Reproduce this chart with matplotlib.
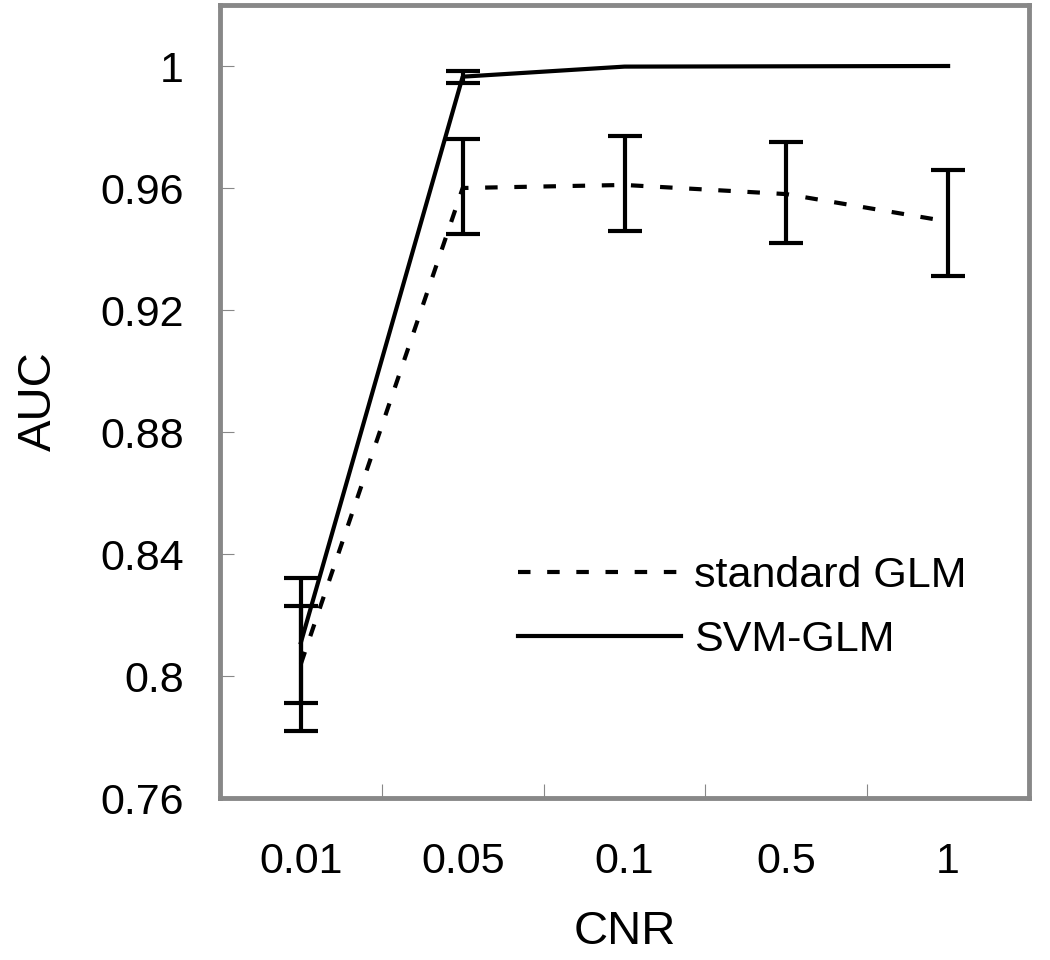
import numpy as np
import matplotlib
matplotlib.use("Agg")
import matplotlib.pyplot as plt

plt.rcParams['font.family'] = ['Liberation Sans', 'DejaVu Sans']

categories = ['0.01', '0.05', '0.1', '0.5', '1']
glm_mean = [0.804, 0.960, 0.961, 0.958, 0.949]
glm_low = [0.782, 0.945, 0.946, 0.942, 0.931]
glm_high = [0.832, 0.976, 0.977, 0.975, 0.966]
svm_mean = [0.811, 0.9965, 0.9998, 0.9999, 1.0]
svm_low = [0.791, 0.9944, 0.9998, 0.9999, 1.0]
svm_high = [0.823, 0.9985, 0.9998, 0.9999, 1.0]
yticks = [0.76, 0.80, 0.84, 0.88, 0.92, 0.96, 1.0]
ytick_labels = ['0.76', '0.8', '0.84', '0.88', '0.92', '0.96', '1']

fig = plt.figure(figsize=(10.5, 9.6), dpi=100)
ax = fig.add_axes([220/1050, 1-798/960, (1029-220)/1050, (798-5)/960])

x = np.arange(len(categories))

def draw_err(low, high):
    low = np.array(low); high = np.array(high)
    sel = high - low > 1e-6
    center = (low + high) / 2
    ax.errorbar(x[sel], center[sel], yerr=((high - low) / 2)[sel], fmt='none',
                ecolor='black', elinewidth=3, capsize=12, capthick=3, zorder=3)

draw_err(glm_low, glm_high)
draw_err(svm_low, svm_high)

ax.plot(x, glm_mean, color='black', lw=3, dashes=(3, 4), label='standard GLM', zorder=4)
ax.plot(x, svm_mean, color='black', lw=3, label='SVM-GLM', zorder=4)

ax.set_xlim(-0.5, len(categories) - 0.5)
ax.set_ylim(0.76, 1.02)
ax.set_yticks(yticks)
ax.set_yticklabels(ytick_labels)
ax.set_xticks(x)
ax.set_xticklabels(categories)
ax.set_xticks(x[:-1] + 0.5, minor=True)

ax.tick_params(axis='x', which='major', length=0, pad=32, labelsize=31)
ax.tick_params(axis='x', which='minor', direction='in', length=10, width=0.8, color='#888888')
ax.tick_params(axis='y', which='major', direction='in', length=10, width=0.8, color='#888888',
               pad=26, labelsize=31)

for s in ax.spines.values():
    s.set_color('#888888')
    s.set_linewidth(3.5)

ax.set_xlabel('CNR', fontsize=34, labelpad=20)
ax.set_ylabel('AUC', fontsize=34, labelpad=28)

leg = ax.legend(loc='upper left', bbox_to_anchor=(0.368, 0.305), frameon=False,
                fontsize=31, handlelength=3.8, handletextpad=0.3, labelspacing=0.55,
                borderpad=0, borderaxespad=0)

fig.savefig('out.png', dpi=100)
